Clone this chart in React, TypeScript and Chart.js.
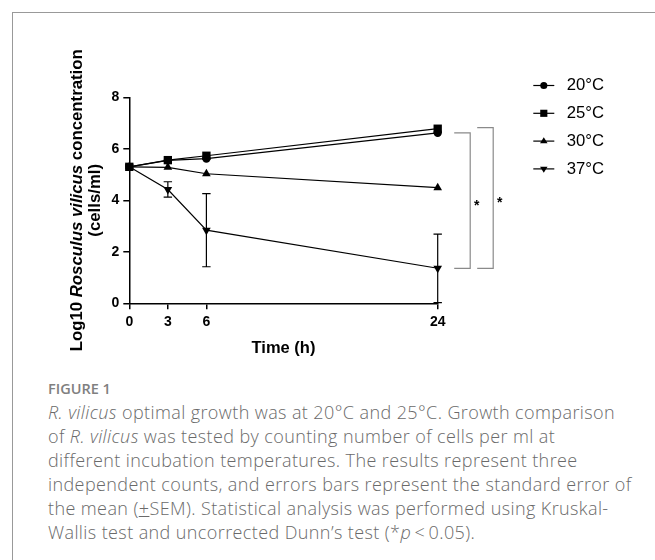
import React, { useEffect, useRef } from 'react';
import { Chart, registerables } from 'chart.js';

Chart.register(...registerables);

// ---- Data ----
const timesH = [0, 3, 6, 24];
const xTicks = [0, 3, 6, 24];
const yTicks = [0, 2, 4, 6, 8];
const seriesLabels = ['20°C', '25°C', '30°C', '37°C'];
const mean20 = [5.3, 5.55, 5.62, 6.62];
const mean25 = [5.3, 5.56, 5.73, 6.78];
const mean30 = [5.3, 5.28, 5.03, 4.49];
const mean37 = [5.3, 4.42, 2.84, 1.36];
const sem20 = [0, 0, 0, 0];
const sem25 = [0, 0, 0, 0];
const sem30 = [0, 0, 0, 0];
const sem37 = [0, 0.3, 1.42, 1.33];
// significance brackets at 24 h: [series index A, series index B, label]
const bracketPairs: [number, number, string][] = [
  [0, 3, '*'],
  [1, 3, '*'],
];

const means = [mean20, mean25, mean30, mean37];
const sems = [sem20, sem25, sem30, sem37];
const markerStyles = ['circle', 'rect', 'triangle', 'triangleDown'];

const FONT = '"Liberation Sans", Arial, sans-serif';

function drawMarker(ctx: CanvasRenderingContext2D, style: string, x: number, y: number, s: number) {
  ctx.beginPath();
  if (style === 'circle') {
    ctx.arc(x, y, 4.2 * s, 0, Math.PI * 2);
  } else if (style === 'rect') {
    ctx.rect(x - 4.2 * s, y - 4.2 * s, 8.4 * s, 8.4 * s);
  } else if (style === 'triangle') {
    ctx.moveTo(x, y - 4.6 * s);
    ctx.lineTo(x + 4.4 * s, y + 2.6 * s);
    ctx.lineTo(x - 4.4 * s, y + 2.6 * s);
    ctx.closePath();
  } else {
    ctx.moveTo(x, y + 4.6 * s);
    ctx.lineTo(x + 4.4 * s, y - 2.6 * s);
    ctx.lineTo(x - 4.4 * s, y - 2.6 * s);
    ctx.closePath();
  }
  ctx.fillStyle = '#000';
  ctx.fill();
}

const extrasPlugin = {
  id: 'extras',
  beforeDatasetsDraw(chart: any) {
    const ctx: CanvasRenderingContext2D = chart.ctx;
    const xs = chart.scales.x;
    const ys = chart.scales.y;
    ctx.save();
    ctx.strokeStyle = '#000';
    ctx.lineWidth = 1.2;
    sems.forEach((sem, si) => {
      sem.forEach((e, i) => {
        if (e <= 0) return;
        const x = xs.getPixelForValue(timesH[i]);
        const yTop = ys.getPixelForValue(means[si][i] + e);
        const yBot = ys.getPixelForValue(Math.max(0, means[si][i] - e));
        ctx.beginPath();
        ctx.moveTo(x, yTop);
        ctx.lineTo(x, yBot);
        ctx.moveTo(x - 4.2, yTop);
        ctx.lineTo(x + 4.2, yTop);
        ctx.moveTo(x - 4.2, yBot);
        ctx.lineTo(x + 4.2, yBot);
        ctx.stroke();
      });
    });
    ctx.restore();
  },
  afterDraw(chart: any) {
    const ctx: CanvasRenderingContext2D = chart.ctx;
    const xs = chart.scales.x;
    const ys = chart.scales.y;
    const area = chart.chartArea;
    ctx.save();

    // Brackets
    const last = timesH.length - 1;
    const x24 = xs.getPixelForValue(timesH[last]);
    bracketPairs.forEach(([a, b, lab], k) => {
      const yA = ys.getPixelForValue(means[a][last]) + (k === 1 ? -1 : 0);
      const yB = ys.getPixelForValue(means[b][last]);
      const x0 = x24 + 16.5 + k * 23;
      const x1 = x0 + 16;
      ctx.strokeStyle = '#8a8a8a';
      ctx.lineWidth = 1.2;
      ctx.beginPath();
      ctx.moveTo(x0, yA);
      ctx.lineTo(x1, yA);
      ctx.lineTo(x1, yB);
      ctx.lineTo(x0, yB);
      ctx.stroke();
      ctx.fillStyle = '#000';
      ctx.font = `bold 14px ${FONT}`;
      ctx.textAlign = 'center';
      ctx.textBaseline = 'alphabetic';
      ctx.fillText(lab, x1 + 6.5, (yA + yB) / 2 + 9);
    });

    // X title
    ctx.fillStyle = '#000';
    ctx.font = `bold 16.5px ${FONT}`;
    ctx.textAlign = 'center';
    ctx.textBaseline = 'middle';
    ctx.fillText('Time (h)', (area.left + area.right) / 2, 348.5);

    // Y title (two lines, mixed italic)
    const cy = (area.top + area.bottom) / 2;
    const segs: [string, string][] = [
      ['Log10 ', `bold 16.8px ${FONT}`],
      ['Rosculus vilicus', `italic bold 16.8px ${FONT}`],
      [' concentration', `bold 16.8px ${FONT}`],
    ];
    let total = 0;
    segs.forEach(([t, f]) => {
      ctx.font = f;
      total += ctx.measureText(t).width;
    });
    ctx.save();
    ctx.translate(81.5, cy);
    ctx.rotate(-Math.PI / 2);
    ctx.textAlign = 'left';
    ctx.textBaseline = 'alphabetic';
    let px = -total / 2;
    segs.forEach(([t, f]) => {
      ctx.font = f;
      ctx.fillText(t, px, 0);
      px += ctx.measureText(t).width;
    });
    ctx.restore();
    ctx.save();
    ctx.translate(100, cy);
    ctx.rotate(-Math.PI / 2);
    ctx.textAlign = 'center';
    ctx.textBaseline = 'alphabetic';
    ctx.font = `bold 16.8px ${FONT}`;
    ctx.fillText('(cells/ml)', 0, 0);
    ctx.restore();

    // Legend
    const legendY0 = 85.5;
    const legendStep = 27.8;
    seriesLabels.forEach((lab, i) => {
      const y = legendY0 + i * legendStep;
      ctx.strokeStyle = '#000';
      ctx.lineWidth = 1.2;
      ctx.beginPath();
      ctx.moveTo(533.3, y);
      ctx.lineTo(554.3, y);
      ctx.stroke();
      drawMarker(ctx, markerStyles[i], 543.8, y, 0.85);
      ctx.fillStyle = '#000';
      ctx.font = `16.7px ${FONT}`;
      ctx.textAlign = 'left';
      ctx.textBaseline = 'middle';
      ctx.fillText(lab, 566.7, y);
    });

    ctx.restore();
  },
};

export default function App() {
  const ref = useRef<HTMLCanvasElement>(null);

  useEffect(() => {
    const canvas = ref.current!;
    const pointStyles = ['circle', 'rect', 'triangle', 'triangle'];
    const pointRadii = [4.2, 5.9, 5, 5];
    const rotations = [0, 0, 0, 180];
    const chart = new Chart(canvas, {
      type: 'line',
      data: {
        datasets: seriesLabels.map((lab, si) => ({
          label: lab,
          data: timesH.map((t, i) => ({ x: t, y: means[si][i] })),
          borderColor: '#000',
          backgroundColor: '#000',
          borderWidth: 1.2,
          pointStyle: pointStyles[si] as any,
          pointRadius: pointRadii[si],
          pointRotation: rotations[si],
          pointBackgroundColor: '#000',
          pointBorderColor: '#000',
          pointBorderWidth: 0,
          tension: 0,
          fill: false,
          clip: false as any,
          order: 4 - si,
        })),
      },
      options: {
        responsive: false,
        animation: false,
        devicePixelRatio: 1,
        layout: { padding: { left: 0, top: 97.3, right: 217.3, bottom: 0 } },
        plugins: {
          legend: { display: false },
          tooltip: { enabled: false },
        },
        scales: {
          x: {
            type: 'linear',
            min: 0,
            max: 24,
            afterBuildTicks: (s: any) => {
              s.ticks = xTicks.map((v) => ({ value: v }));
            },
            afterFit: (s: any) => {
              s.height = 66.7;
            },
            grid: { drawOnChartArea: false, drawTicks: true, tickLength: 6, color: '#000', lineWidth: 1.5 },
            border: { display: true, color: '#000', width: 1.5 },
            ticks: {
              color: '#000',
              padding: 4,
              minRotation: 0,
              maxRotation: 0,
              autoSkip: false,
              font: { family: FONT, size: 14, weight: 'bold' },
            },
          },
          y: {
            type: 'linear',
            min: 0,
            max: 8,
            afterBuildTicks: (s: any) => {
              s.ticks = yTicks.map((v) => ({ value: v }));
            },
            afterFit: (s: any) => {
              s.width = 129.3;
            },
            grid: { drawOnChartArea: false, drawTicks: true, tickLength: 6, color: '#000', lineWidth: 1.5 },
            border: { display: true, color: '#000', width: 1.5 },
            ticks: {
              color: '#000',
              padding: 4,
              minRotation: 0,
              maxRotation: 0,
              autoSkip: false,
              font: { family: FONT, size: 14, weight: 'bold' },
            },
          },
        },
      } as any,
      plugins: [extrasPlugin],
    });
    return () => chart.destroy();
  }, []);

  const capFont = '"Open Sans", "Noto Sans", sans-serif';
  const lineStyle: React.CSSProperties = { whiteSpace: 'nowrap', height: 24, lineHeight: '24px' };

  return (
    <div style={{ position: 'absolute', left: 0, top: 0, width: 655, height: 560, background: '#fff', overflow: 'hidden' }}>
      <div
        style={{
          position: 'absolute',
          left: 12,
          top: 12,
          width: 643,
          height: 548,
          borderTop: '1px solid #999',
          borderLeft: '1px solid #999',
          boxSizing: 'border-box',
        }}
      />
      <canvas ref={ref} width={655} height={370} style={{ position: 'absolute', left: 0, top: 0, width: 655, height: 370 }} />
      <div
        style={{
          position: 'absolute',
          left: 48,
          top: 377,
          fontFamily: capFont,
          fontWeight: 600,
          fontSize: 14.5,
          lineHeight: '24px',
          color: '#808080',
        }}
      >
        FIGURE 1
      </div>
      <div
        style={{
          position: 'absolute',
          left: 48,
          top: 399.7,
          fontFamily: capFont,
          fontWeight: 300,
          fontSize: 18,
          letterSpacing: 0.4,
          color: '#6a6a6a',
        }}
      >
        <div style={lineStyle}>
          <i>R. vilicus</i> optimal growth was at 20°C and 25°C. Growth comparison
        </div>
        <div style={lineStyle}>
          of <i>R. vilicus</i> was tested by counting number of cells per ml at
        </div>
        <div style={lineStyle}>different incubation temperatures. The results represent three</div>
        <div style={lineStyle}>independent counts, and errors bars represent the standard error of</div>
        <div style={lineStyle}>
          the mean (<u>+</u>SEM). Statistical analysis was performed using Kruskal-
        </div>
        <div style={lineStyle}>
          Wallis test and uncorrected Dunn’s test (*<i>p</i>{'\u2009<\u20090.05).'}
        </div>
      </div>
    </div>
  );
}
